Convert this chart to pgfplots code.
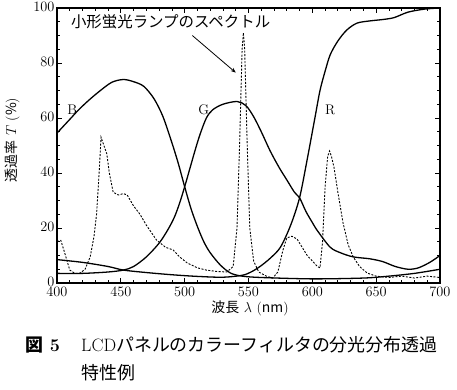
\documentclass[border=0pt]{standalone}
\usepackage{fontspec}
\usepackage{pgfplots}
\pgfplotsset{compat=1.18}
\usetikzlibrary{arrows.meta,calc}
\newfontfamily\jp{Noto Sans CJK JP}
\begin{document}
\begin{tikzpicture}
\begin{axis}[scale only axis, width=383bp, height=275bp,
  xmin=400, xmax=700, ymin=0, ymax=100,
  xtick={400,450,...,700}, ytick={0,20,...,100},
  minor x tick num=4, minor y tick num=3,
  tick align=inside, major tick length=5bp, minor tick length=3bp,
  axis line style={line width=1.2pt},
  every tick/.style={line width=0.8pt, black},
  tick label style={font=\fontsize{14}{16}\selectfont},
  xticklabel style={yshift=-1bp},
  yticklabel style={xshift=1bp, yshift=1.5bp},
]
\addplot[black, line width=1.3pt, smooth, tension=0.5] coordinates {
(400,54.5) (410,59.5) (417,63) (425,66.5) (434,70) (443,73) (452,74) (460,73.2) (468,71.5) (476,67) (483,60.5) (490,51) (495,43.5) (500,35) (505,27) (510,20.5) (515,15) (520,11) (528,6.5) (536,3.6) (545,2.5) (560,2) (600,1.5) (640,1.8) (660,2.5) (680,3.5) (700,5)};
\addplot[black, line width=1.3pt, smooth, tension=0.5] coordinates {
(400,3.5) (420,3.5) (440,4) (452,4.7) (460,6) (470,9.5) (480,14.5) (487,19.5) (492,24) (496,29) (500,35) (504,41.5) (508,48) (512,54) (517,60) (522,63) (530,65) (541,66) (548,64.5) (554,60.5) (560,55) (567,48) (574,42) (580,37.5) (586,33) (590,31) (595,26) (600,22) (604,19) (614,13) (622,11) (632,9.5) (645,8.8) (655,7.8) (665,6) (675,5) (683,5.5) (692,7.5) (700,10)};
\addplot[black, line width=1.3pt, smooth, tension=0.5] coordinates {
(400,8.5) (420,7.5) (440,6) (452,4.7) (470,3.8) (490,3) (510,2.4) (530,2.1) (545,2.8) (552,4) (559,6) (567,9) (575,13) (583,21) (590,31) (596,45) (602,60) (606,70) (610,77) (614,83) (620,88) (627,92) (635,94.5) (645,95.3) (655,95.8) (664,96.5) (675,98.5) (688,99.6) (700,100)};
\addplot[black, line width=0.9pt, dash pattern=on 2pt off 1.5pt] coordinates {
(400,15) (403,15.5) (406,11) (410,4.7) (414,3.5) (418,3.6) (422,5) (426,9.5) (429,17) (431,25) (433,40) (434.5,53) (436,51) (439,47) (441,40) (444,33) (448,32) (452,32.5) (455,32) (460,28) (465,25) (470,21) (478,15.6) (485,13) (491,12) (496,9.5) (502,7.3) (510,5.5) (517,4.7) (525,4.2) (533,4) (538,6) (541,20) (543,50) (545,85) (546,91) (547,85) (549,50) (551,20) (554,8) (558,4) (564,2.5) (569,1.8) (573,4) (577,12) (580,16.4) (584,17) (588,16) (592,13) (596,10) (600,8) (604,6) (606,5.5) (608,15) (610,35) (612,46) (613.5,48) (615,46) (617,42) (620,33) (624,22) (628,14) (632,9.5) (637,6) (643,3.6) (650,2.5) (660,2) (670,2.5) (680,1.8) (690,2.5) (700,2)};
\coordinate (O) at (rel axis cs:0,0);
\coordinate (TT) at (axis cs:489,95);
\coordinate (LB) at (axis cs:412,63);
\coordinate (LG) at (axis cs:515,63);
\coordinate (LR) at (axis cs:614,63);
\coordinate (A1) at (axis cs:506,90);
\coordinate (A2) at (axis cs:540,76.5);
\end{axis}
\node[font=\jp\fontsize{15.5}{17}\selectfont] at (TT) {小形蛍光ランプのスペクトル};
\node[font=\fontsize{14}{16}\selectfont] at (LB) {B};
\node[font=\fontsize{14}{16}\selectfont] at (LG) {G};
\node[font=\fontsize{14}{16}\selectfont] at (LR) {R};
\draw[line width=0.8pt, -{Stealth[length=5pt,width=4pt]}] (A1) -- (A2);
\node[rotate=90, font=\fontsize{14}{16}\selectfont] at ($(O)+(-45bp,143bp)$) {{\jp 透過率}\ $T$\ ({\jp\%})};
\node[font=\fontsize{14}{16}\selectfont] at ($(O)+(193bp,-25bp)$) {{\jp 波長}\ $\lambda$\ ({\jp nm})};
\node[anchor=west, inner sep=0pt, font=\fontsize{18}{20}\selectfont\bfseries] at ($(O)+(-32bp,-62bp)$) {{\jp 図}\ 5};
\node[anchor=west, inner sep=0pt, font=\fontsize{18}{20}\selectfont] at ($(O)+(24bp,-62bp)$) {LCD{\jp パネルのカラーフィルタの分光分布透過}};
\node[anchor=west, inner sep=0pt, font=\fontsize{18}{20}\selectfont] at ($(O)+(24bp,-90bp)$) {{\jp 特性例}};
\pgfresetboundingbox
\path[use as bounding box] ($(O)+(-57bp,-107bp)$) rectangle ++(457bp,390bp);
\end{tikzpicture}
\end{document}
